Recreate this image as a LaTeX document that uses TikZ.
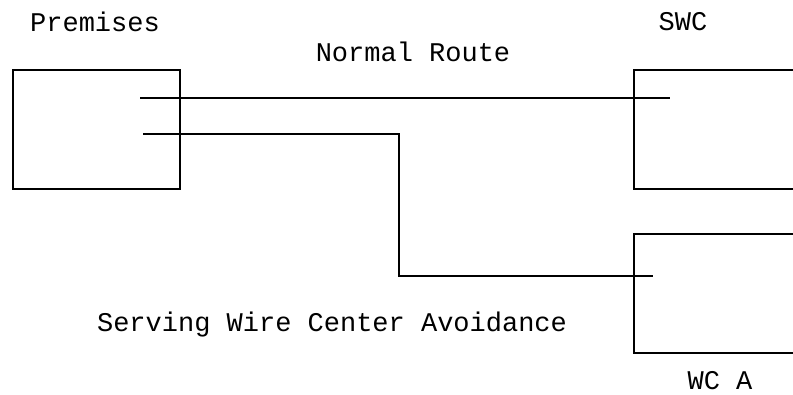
\documentclass[tikz,border=0pt]{standalone}
\usepackage{fontspec}
\setmainfont{Liberation Mono}
\begin{document}
\begin{tikzpicture}[x=1pt,y=-1pt,
  boxline/.style={line width=1.6pt},
  wire/.style={line width=1.6pt},
  lbl/.style={inner sep=0pt,font=\fontsize{27}{30}\selectfont}]
\useasboundingbox (0,0) rectangle (793,394);
\clip (0,0) rectangle (793,394);
% boxes
\node[draw,boxline,minimum width=167pt,minimum height=119pt,inner sep=0pt,anchor=north west] (prem) at (12,69) {};
\node[draw,boxline,minimum width=200pt,minimum height=119pt,inner sep=0pt,anchor=north west] (swc) at (633,69) {};
\node[draw,boxline,minimum width=200pt,minimum height=119pt,inner sep=0pt,anchor=north west] (wca) at (633,233) {};
% labels
\node[lbl] (tprem) at (95,22) {Premises};
\node[lbl] (tswc) at (683,22) {SWC};
\node[lbl] (tnorm) at (413,52) {Normal Route};
\node[lbl] (tavoid) at (332,325) {Serving Wire Center Avoidance};
\node[lbl] (twca) at (720,381) {WC A};
% wire endpoints
\coordinate (a1) at (140,98);
\coordinate (b1) at (670,98);
\coordinate (a2) at (143,134);
\coordinate (k1) at (399,134);
\coordinate (k2) at (399,276);
\coordinate (b2) at (653,276);
\draw[wire] (a1) -- (b1);
\draw[wire] (a2) -- (k1) -- (k2) -- (b2);
\end{tikzpicture}
\end{document}
